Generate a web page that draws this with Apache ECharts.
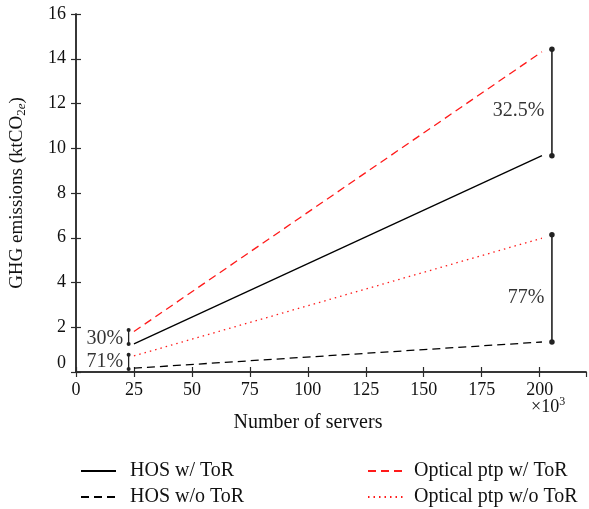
<!DOCTYPE html>
<html>
<head>
<meta charset="utf-8">
<script src="https://cdn.jsdelivr.net/npm/echarts@6/dist/echarts.min.js"></script>
<style>
html,body{margin:0;padding:0;background:#fff;}
#chart{width:589px;height:509px;}
</style>
</head>
<body>
<div id="chart"></div>
<script>
// ---- data ----
const servers = [25, 201]; // ×10^3
const hosWithToR = [1.26, 9.67];
const hosWithoutToR = [0.17, 1.34];
const opticalWithToR = [1.81, 14.31];
const opticalWithoutToR = [0.72, 5.98];

const seriesNames = ['HOS w/ ToR', 'HOS w/o ToR', 'Optical ptp w/ ToR', 'Optical ptp w/o ToR'];

// comparison brackets
const bracketX = [22.7, 22.7, 205.3, 205.3];
const bracketTop = [1.88, 0.77, 14.43, 6.13];
const bracketBottom = [1.25, 0.13, 9.66, 1.34];
const bracketLabels = ['30%', '71%', '32.5%', '77%'];
const bracketLabelY = [1.50, 0.48, 11.68, 3.31];

const xTicks = [0, 25, 50, 75, 100, 125, 150, 175, 200];
const yTicks = [0, 2, 4, 6, 8, 10, 12, 14, 16];

const FONT = '"Liberation Serif", "Times New Roman", serif';
const AXC = '#2a2a2a';

const chart = echarts.init(document.getElementById('chart'));

function pairs(xs, ys) { return xs.map((x, i) => [x, ys[i]]); }

const lineDefs = [
  { name: seriesNames[0], data: hosWithToR, color: '#000', type: 'solid' },
  { name: seriesNames[1], data: hosWithoutToR, color: '#000', type: [8, 5] },
  { name: seriesNames[2], data: opticalWithToR, color: '#ff1a1a', type: [8, 5] },
  { name: seriesNames[3], data: opticalWithoutToR, color: '#ff1a1a', type: [1.5, 4] }
];

const series = lineDefs.map(d => ({
  name: d.name,
  type: 'line',
  data: pairs(servers, d.data),
  symbol: 'none',
  lineStyle: { color: d.color, width: 1.3, type: d.type },
  itemStyle: { color: d.color },
  z: 3
}));

bracketX.forEach((x, i) => {
  const small = x < 100;
  series.push({
    type: 'line',
    data: [[x, bracketTop[i]], [x, bracketBottom[i]]],
    symbol: 'circle',
    symbolSize: small ? 4 : 5.5,
    lineStyle: { color: '#222', width: small ? 1.3 : 1.6 },
    itemStyle: { color: '#222' },
    silent: true,
    z: 4
  });
  series.push({
    type: 'scatter',
    data: [[x, bracketLabelY[i]]],
    symbolSize: 1,
    itemStyle: { color: 'rgba(0,0,0,0)' },
    silent: true,
    z: 5,
    label: {
      show: true,
      position: 'left',
      distance: small ? 5 : 7,
      formatter: bracketLabels[i],
      fontFamily: FONT,
      fontSize: 20,
      color: '#000',
      textBorderWidth: 0
    }
  });
});

const xCommon = {
  type: 'value', min: 0, max: 220, interval: 25,
  axisLine: { show: true, lineStyle: { color: AXC, width: 1.5 } },
  axisTick: { show: true, inside: true, length: 5, lineStyle: { color: AXC, width: 1.2 } },
  splitLine: { show: false }
};
const yCommon = {
  type: 'value', min: 0, max: 16, interval: 2,
  axisLine: { show: true, lineStyle: { color: AXC, width: 1.5 } },
  axisTick: { show: true, inside: true, length: 5, lineStyle: { color: AXC, width: 1.2 } },
  splitLine: { show: false }
};

const legendPos = [[75, 456], [75, 482], [362, 456], [362, 482]];
const legendPad = [9, 9, 6, 6];
const legends = seriesNames.map((n, i) => ({
  data: [n],
  left: legendPos[i][0], top: legendPos[i][1],
  itemWidth: 35, itemHeight: 12,
  itemStyle: { opacity: 0 },
  textStyle: { fontFamily: FONT, fontSize: 20, color: '#111', padding: [0, 0, 0, legendPad[i]] },
  selectedMode: false
}));

chart.setOption({
  animation: false,
  backgroundColor: '#fff',
  grid: { left: 76, right: 3, top: 14, bottom: 137, containLabel: false },
  xAxis: [
    Object.assign({}, xCommon, {
      position: 'bottom',
      name: 'Number of servers',
      nameLocation: 'middle',
      nameGap: 41,
      nameTextStyle: { fontFamily: FONT, fontSize: 20, color: '#111', padding: [0, 46, 0, 0] },
      axisLabel: {
        fontFamily: FONT, fontSize: 18, color: '#111', margin: 9,
        showMaxLabel: false,
        formatter: v => (xTicks.indexOf(v) >= 0 ? String(v) : '')
      }
    }),
    Object.assign({}, xCommon, { position: 'top', axisLabel: { show: false } })
  ],
  yAxis: [
    Object.assign({}, yCommon, {
      position: 'left',
      name: 'GHG emissions (ktCO{sub|2}{subi|e})',
      nameLocation: 'middle',
      nameGap: 48,
      nameTextStyle: {
        fontFamily: FONT, fontSize: 19, color: '#111',
        rich: {
          sub: { fontFamily: FONT, fontSize: 13, color: '#111', verticalAlign: 'bottom', padding: [8, 0, 0, 0] },
          subi: { fontFamily: FONT, fontSize: 13, fontStyle: 'italic', color: '#111', verticalAlign: 'bottom', padding: [8, 0, 0, 0] }
        }
      },
      axisLabel: {
        fontFamily: FONT, fontSize: 18, color: '#111', margin: 10,
        verticalAlignMinLabel: 'bottom',
        formatter: v => (yTicks.indexOf(v) >= 0 ? String(v) : '')
      }
    }),
    Object.assign({}, yCommon, { position: 'right', axisLabel: { show: false } })
  ],
  legend: legends,
  graphic: [
    {
      type: 'text',
      left: 531, top: 396,
      style: {
        text: '×10{sup|3}',
        font: '18px ' + FONT,
        fill: '#111',
        rich: {
          sup: { fontFamily: FONT, fontSize: 12, fill: '#111', verticalAlign: 'top', padding: [0, 0, 10, 0] }
        }
      }
    }
  ],
  series: series
});
</script>
</body>
</html>
